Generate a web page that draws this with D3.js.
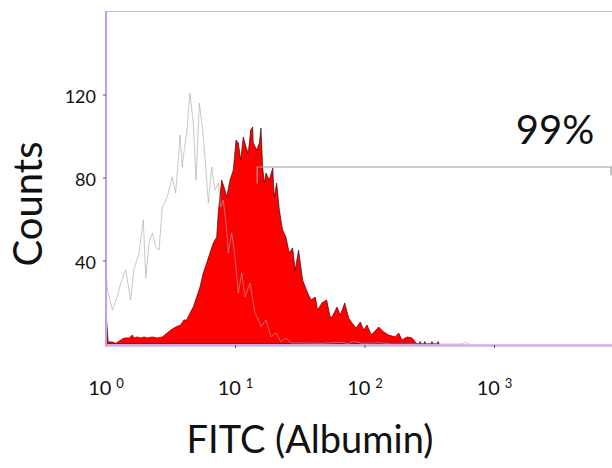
<!DOCTYPE html>
<html>
<head>
<meta charset="utf-8">
<script src="https://cdn.jsdelivr.net/npm/d3@7"></script>
<style>
  body { margin: 0; background: #fff; }
  svg { display: block; font-family: Lato, "Open Sans", sans-serif; }
</style>
</head>
<body>
<svg id="chart" width="612" height="468"></svg>
<script>
// control (unstained) histogram, [FITC intensity, counts]
const control = [
  [1.0, 0], [1.01, 32], [1.02, 27], [1.12, 16.4], [1.22, 22.6], [1.30, 29.4], [1.42, 35.7],
  [1.55, 21.2], [1.64, 35.7], [1.80, 43.9], [1.94, 59.8], [2.03, 31.8], [2.15, 48.7],
  [2.28, 53.5], [2.42, 46.7], [2.57, 45.3], [2.72, 66.0], [2.97, 70.8], [3.25, 80.5],
  [3.45, 72.8], [3.60, 87.2], [3.73, 100.7], [3.88, 85.3], [3.95, 90.1], [4.20, 101.7],
  [4.45, 121], [4.72, 106.5], [4.95, 79.0], [5.26, 116.1], [5.58, 103.1], [5.81, 90.1],
  [6.17, 68.0], [6.55, 85.3], [6.95, 74.2], [7.36, 77.6], [7.69, 66.0], [8.05, 69.4],
  [8.55, 54.9], [8.80, 43.9], [9.35, 53.5], [9.91, 41.9], [10.51, 24.6], [11.17, 34.2],
  [11.84, 22.6], [12.94, 29.4], [14.15, 14.9], [15.46, 10.1], [15.73, 8.2], [17.2, 11.6],
  [18.8, 3.4], [20.6, 5.3], [22.4, 1.0], [24.5, 2.9], [26.8, 0.5], [31.5, 0.5], [45, 0.3],
  [66.4, 0.8], [74, 0.2], [82.2, 1.2], [95, 0.3], [130, 0.6], [160, 0], [560, 0], [600, 0.8],
  [640, 0]
];

// albumin-FITC stained histogram, [FITC intensity, counts]
const albumin = [
  [1.0, 0], [1.0, 14.9], [1.04, 1], [1.12, 1.0], [1.19, 0.3], [1.30, 1.9], [1.38, 2.9],
  [1.51, 2.9], [1.60, 4.3], [1.64, 2.9], [1.74, 3.4], [1.85, 2.9], [1.97, 3.4], [2.08, 2.9],
  [2.28, 3.4], [2.49, 2.9], [2.72, 3.4], [2.97, 5.3], [3.16, 6.7], [3.45, 8.2], [3.77, 9.2],
  [4.00, 11.6], [4.20, 11.6], [4.45, 14.9], [4.72, 17.8], [5.01, 22.6], [5.32, 27.5],
  [5.64, 34.2], [5.99, 39.0], [6.35, 43.9], [6.74, 48.7], [7.16, 51.6], [7.36, 63.1],
  [7.82, 79.0], [8.29, 74.2], [8.55, 70.8], [9.07, 79.0], [9.62, 83.9], [10.09, 98.3],
  [10.51, 96.9], [10.97, 88.7], [11.49, 99.8], [12.06, 94.9], [12.55, 92.0], [13.1, 103.1],
  [13.58, 104.6], [13.7, 96.9], [14.58, 93.5], [15.28, 96.9], [15.73, 104.1], [16.2, 85.3],
  [16.7, 77.6], [17.2, 82.4], [18.2, 79.0], [19.4, 84.8], [19.9, 70.8], [20.8, 77.6],
  [21.8, 64.6], [23.1, 54.9], [24.5, 51.6], [26.0, 43.9], [27.6, 46.3], [28.9, 35.7],
  [30.7, 45.3], [33.0, 30.8], [36.1, 24.6], [38.3, 21.2], [41.3, 22.6], [43.0, 16.4],
  [46.5, 19.8], [50.6, 21.2], [53.7, 13.0], [55.6, 13.0], [60.8, 17.8], [64.5, 14.0],
  [69.7, 19.8], [74.8, 12.5], [79.4, 10.1], [85.3, 7.7], [92.0, 10.6], [97.7, 6.7],
  [103.6, 9.2], [111.9, 4.3], [127.6, 8.2], [139.4, 5.8], [152.4, 4.3], [171.4, 3.4],
  [182.0, 5.3], [193.1, 1.9], [211, 3.4], [230.7, 2.9], [252, 0],
  [260, 0], [266, 1.2], [272, 0], [284, 0], [290, 1.2], [296, 0], [322, 0], [329, 1.2],
  [336, 0], [358, 0], [366, 1.2], [374, 0]
];

// positive gate: [from, to], counts level, end-tick drop
const gateRange = [14.7, 10000];
const gateLevel = 85.3;
const gateDrop = 8;
const gateLabel = "99%";

const yTicks = [40, 80, 120];
const xTicks = [1, 10, 100, 1000];
const xTitle = "FITC (Albumin)";
const yTitle = "Counts";

const svg = d3.select("#chart");
const W = 612, H = 468;
const mLeft = 106, mTop = 12, mBottom = 344;

const x = d3.scaleLog().domain([1, 10000]).range([mLeft, mLeft + 4 * 129.5]);
const y = d3.scaleLinear().domain([0, 160]).range([mBottom, mTop]);

svg.append("clipPath").attr("id", "plot")
  .append("rect").attr("x", mLeft).attr("y", 0).attr("width", W - mLeft).attr("height", mBottom + 1);

// top frame line
svg.append("line")
  .attr("x1", mLeft).attr("x2", W).attr("y1", 11.5).attr("y2", 11.5)
  .attr("stroke", "#bdbdbd").attr("stroke-width", 1);

const g = svg.append("g").attr("clip-path", "url(#plot)");

const area = d3.area()
  .x(d => x(d[0]))
  .y0(y(0))
  .y1(d => y(d[1]));

const line = d3.line()
  .x(d => x(d[0]))
  .y(d => y(d[1]));

g.append("path")
  .datum(albumin)
  .attr("d", area)
  .attr("fill", "#ff0000")
  .attr("stroke", "#2a1515")
  .attr("stroke-width", 0.7)
  .attr("stroke-linejoin", "round");

g.append("path")
  .datum(control)
  .attr("d", line)
  .attr("fill", "none")
  .attr("stroke", "#a8a8a8")
  .attr("stroke-opacity", 0.7)
  .attr("stroke-width", 0.9);

// gate marker
const gate = svg.append("g").attr("stroke", "#9c9c9c").attr("stroke-width", 1.2).attr("fill", "none");
gate.append("path")
  .attr("d", `M${x(gateRange[0])},${y(gateLevel - gateDrop)}V${y(gateLevel)}H${W}`);
gate.append("line")
  .attr("x1", W - 1).attr("x2", W - 1)
  .attr("y1", y(gateLevel)).attr("y2", y(gateLevel - gateDrop / 2));

svg.append("text")
  .attr("x", 555).attr("y", 144)
  .attr("text-anchor", "middle")
  .attr("font-size", 40)
  .attr("fill", "#111")
  .text(gateLabel);

// axes
const xAxis = svg.append("g");
xAxis.append("line")
  .attr("x1", mLeft).attr("x2", W).attr("y1", mBottom + 1.5).attr("y2", mBottom + 1.5)
  .attr("stroke", "#d6a9f2").attr("stroke-width", 2.5);
xAxis.selectAll(".tick")
  .data(xTicks.slice(1))
  .join("line")
  .attr("x1", d => x(d)).attr("x2", d => x(d))
  .attr("y1", mBottom + 1).attr("y2", mBottom + 4)
  .attr("stroke", "#555").attr("stroke-width", 1);

const xl = xAxis.selectAll(".lab")
  .data(xTicks)
  .join("text")
  .attr("x", d => x(d))
  .attr("y", 395)
  .attr("text-anchor", "middle")
  .attr("font-size", 20)
  .attr("fill", "#111");
xl.append("tspan").text("10");
xl.append("tspan")
  .attr("dx", 5).attr("dy", -7).attr("font-size", 13)
  .text(d => Math.round(Math.log10(d)));

const yAxis = svg.append("g");
yAxis.append("line")
  .attr("x1", mLeft).attr("x2", mLeft).attr("y1", 11).attr("y2", mBottom + 2.5)
  .attr("stroke", "#c49de8").attr("stroke-width", 2);
yAxis.selectAll(".tick")
  .data(yTicks)
  .join("line")
  .attr("x1", mLeft - 3).attr("x2", mLeft)
  .attr("y1", d => y(d)).attr("y2", d => y(d))
  .attr("stroke", "#555").attr("stroke-width", 1);
yAxis.selectAll(".lab")
  .data(yTicks)
  .join("text")
  .attr("x", 96)
  .attr("y", d => y(d) + 8)
  .attr("text-anchor", "end")
  .attr("font-size", 18)
  .attr("fill", "#111")
  .text(d => d);

svg.append("text")
  .attr("x", 310).attr("y", 453)
  .attr("text-anchor", "middle")
  .attr("font-size", 38)
  .attr("fill", "#111")
  .text(xTitle);

svg.append("text")
  .attr("transform", "translate(42,204) rotate(-90)")
  .attr("text-anchor", "middle")
  .attr("font-size", 40)
  .attr("fill", "#111")
  .text(yTitle);
</script>
</body>
</html>
